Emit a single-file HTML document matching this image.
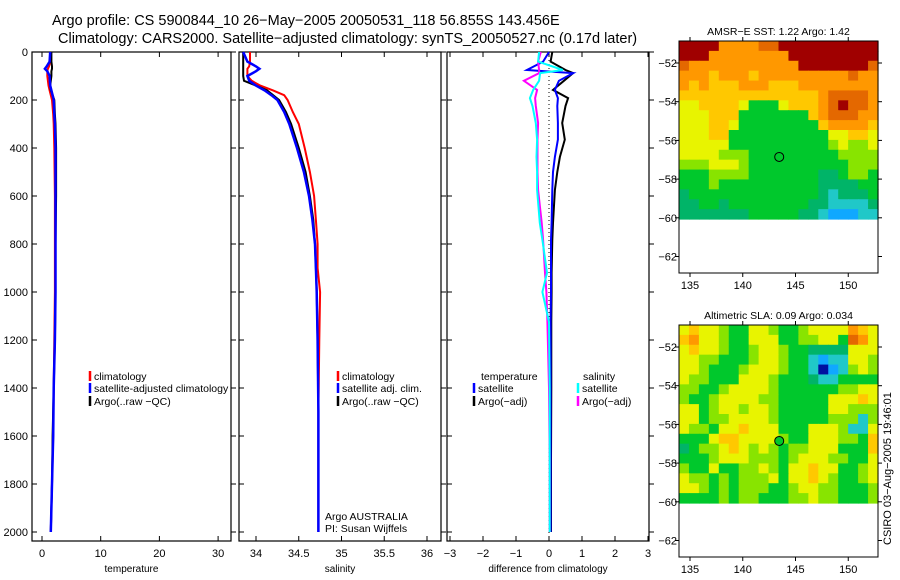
<!DOCTYPE html>
<html><head><meta charset="utf-8"><style>
body{margin:0;background:#fff;}
svg{display:block;font-family:"Liberation Sans",sans-serif;}
</style></head><body>
<svg id="fig" width="900" height="580" viewBox="0 0 900 580" xmlns="http://www.w3.org/2000/svg">
<text x="52" y="25" font-size="14.5">Argo profile: CS 5900844_10 26−May−2005 20050531_118 56.855S 143.456E</text>
<text x="58" y="43" font-size="14.5">Climatology: CARS2000. Satellite−adjusted climatology: synTS_20050527.nc (0.17d later)</text>
<g id="plots"></g>
<g id="maps"></g>
<text x="0" y="0" font-size="11" transform="translate(891,545) rotate(-90)">CSIRO 03−Aug−2005 19:46:01</text>
</svg>
<script>
// ---- data ----
const tDepth=[0,40,60,70,80,100,140,160,180,200,260,300,400,600,800,1000,1200,1400,1600,1800,2000];
const tClim=[1.5,1.4,1.2,1.0,0.9,0.9,1.1,1.3,1.5,1.7,1.9,2.0,2.1,2.2,2.2,2.2,2.1,2.0,1.9,1.7,1.5];
const tSat=[1.4,1.3,0.8,0.5,0.9,1.3,1.4,1.6,1.8,2.0,2.1,2.2,2.3,2.3,2.3,2.3,2.2,2.0,1.9,1.7,1.5];
const tArgo=[1.6,1.6,1.7,1.7,1.6,1.6,1.4,1.5,1.8,2.1,2.2,2.3,2.4,2.4,2.3,2.3,2.2,2.0,1.8,1.7,1.5];
const sDepth=[0,40,60,70,80,100,120,140,160,180,200,250,300,400,500,600,700,800,900,1000,1200,1500,2000];
const sClim=[33.93,33.93,33.92,33.9,33.9,33.9,33.95,34.05,34.2,34.33,34.37,34.43,34.5,34.57,34.63,34.68,34.7,34.72,34.72,34.75,34.74,34.73,34.73];
const sSat=[33.85,33.9,34.0,34.04,34.0,33.9,33.92,34.0,34.1,34.18,34.25,34.33,34.39,34.48,34.56,34.62,34.66,34.69,34.7,34.71,34.72,34.73,34.73];
const sArgo=[33.85,33.85,33.85,33.85,33.85,33.85,33.86,34.0,34.13,34.2,34.27,34.35,34.41,34.5,34.58,34.63,34.67,34.69,34.7,34.71,34.72,34.73,34.73];
const dDepth=[0,40,75,88,120,158,192,225,296,365,437,500,575,712,783,920,1000,1125,1400,1700,2000];
const dTempArgo=[0.1,0.05,0.5,0.73,0.45,0.12,0.58,0.5,0.4,0.48,0.33,0.25,0.18,0.12,0.1,0.08,0.08,0.07,0.07,0.06,0.06];
const dTempSat=[0.0,-0.18,-0.67,0.73,0.3,0.18,0.27,0.25,0.27,0.27,0.18,0.12,0.1,0.08,0.06,0.06,0.06,0.05,0.05,0.05,0.05];
const dSalSat=[-0.3,-0.33,0.42,-0.27,-0.3,-0.48,-0.58,-0.5,-0.4,-0.36,-0.38,-0.36,-0.36,-0.28,-0.2,-0.06,-0.2,0,0.02,0.02,0.02];
const dSalArgo=[-0.25,-0.33,-0.3,-0.3,-0.76,-0.36,-0.42,-0.4,-0.33,-0.35,-0.35,-0.35,-0.33,-0.22,-0.18,-0.12,-0.08,-0.05,0.0,0.02,0.02];
const depthTicks=[0,200,400,600,800,1000,1200,1400,1600,1800,2000];
const tTicks=[0,10,20,30];
const sTicks=[34,34.5,35,35.5,36];
const dTicks=[-3,-2,-1,0,1,2,3];
const lonTicks=[135,140,145,150];
const latTicks=[-52,-54,-56,-58,-60,-62];
const sstGrid=["99997777889999999999","99977777777999999999","87777777777799999998","77767776777777777877","76766677766677777777","66666666666666788887","55666653335666789887","55566633333336788877","55566533333333677776","55566333333333355665","55555333333333345445","55554443333333334444","44455543333333333444","33344443333333223443","33343333333333222233","23333333333333212223","22332333333332211112","22222223333322100011"];
const slaGrid=["56554335543345555765","67554335553344553875","56554334554332222555","55443334554331011554","55433345554331b01454","54433355543332113333","44334555543333334455","43345555443333355565","55345545543333355444","55344555543333344414","54435565553335554115","33356655554335554436","23445654543445553336","33345554443455544335","43353344543556553345","54434344453556543345","55434344433455443334","33334344333445443334"];
const argoLon=143.456, argoLat=-56.855;

const NS="http://www.w3.org/2000/svg";
function mk(tag,attrs,parent){const e=document.createElementNS(NS,tag);for(const k in attrs)e.setAttribute(k,attrs[k]);parent.appendChild(e);return e;}
const plots=document.getElementById('plots');
const yD=d=>52+d*0.24;
const yTop=52,yBot=541;
const panels=[
 {x0:32,x1:231,xs:v=>42+v*5.87,ticks:tTicks,title:'temperature',name:'temperature-panel'},
 {x0:239,x1:441,xs:v=>256+(v-34)*85.5,ticks:sTicks,title:'salinity',name:'salinity-panel'},
 {x0:447,x1:649,xs:v=>549+v*33,ticks:dTicks,title:'difference from climatology',name:'difference-panel'}
];
panels.forEach((p,i)=>{
 const g=mk('g',{},plots);
 
 
 const fr=mk('rect',{x:p.x0,y:yTop,width:p.x1-p.x0,height:yBot-yTop,fill:'none',stroke:'#000','stroke-width':1.2},g);
 
 
 p.ticks.forEach(t=>{
  const x=p.xs(t);
  mk('line',{x1:x,x2:x,y1:yTop,y2:yTop+5,stroke:'#000'},g);
  mk('line',{x1:x,x2:x,y1:yBot,y2:yBot-5,stroke:'#000'},g);
  const tl=mk('text',{x:x,y:yBot+16,'font-size':11,'text-anchor':'middle'},g);
  tl.textContent=String(t).replace('-','−');
  
  
 });
 depthTicks.forEach(d=>{
  const y=yD(d);
  mk('line',{x1:p.x0,x2:p.x0+5,y1:y,y2:y,stroke:'#000'},g);
  mk('line',{x1:p.x1,x2:p.x1+5,y1:y,y2:y,stroke:'#000'},g);
  if(i===0){const tl=mk('text',{x:28,y:y+4,'font-size':11,'text-anchor':'end'},g);tl.textContent=d;
   
   }
 });
 const at=mk('text',{x:(p.x0+p.x1)/2,y:572,'font-size':10,'text-anchor':'middle'},g);
 at.textContent=p.title;
 
 
});
function line(depths,vals,xs,color,name,w){
 const pts=depths.map((d,i)=>xs(vals[i]).toFixed(1)+','+yD(d).toFixed(1)).join(' ');
 const l=mk('polyline',{points:pts,fill:'none',stroke:color,'stroke-width':w||2},plots);
 
 
}
line(tDepth,tClim,panels[0].xs,'#f00','temp-climatology-line');
line(tDepth,tArgo,panels[0].xs,'#000','temp-argo-line');
line(tDepth,tSat,panels[0].xs,'#00f','temp-satellite-line',2.5);
line(sDepth,sClim,panels[1].xs,'#f00','sal-climatology-line');
line(sDepth,sArgo,panels[1].xs,'#000','sal-argo-line');
line(sDepth,sSat,panels[1].xs,'#00f','sal-satellite-line',2.5);
const zl=mk('line',{x1:549,x2:549,y1:yTop,y2:yBot,stroke:'#000','stroke-dasharray':'1,3'},plots);


line(dDepth,dTempArgo,panels[2].xs,'#000','diff-temp-argo-line');
line(dDepth,dTempSat,panels[2].xs,'#00f','diff-temp-satellite-line');
line(dDepth,dSalArgo,panels[2].xs,'#f0f','diff-sal-argo-line');
line(dDepth,dSalSat,panels[2].xs,'#0ff','diff-sal-satellite-line');
function legend(x,y,color,label){
 if(color){const b=mk('line',{x1:x,x2:x,y1:y-9,y2:y+1,stroke:color,'stroke-width':2.5},plots);
  
  }
 const t=mk('text',{x:x+4,y:y,'font-size':10.5},plots);t.textContent=label;
 
 
}
legend(90,380,'#f00','climatology');legend(90,392,'#00f','satellite-adjusted climatology');legend(90,405,'#000','Argo(..raw −QC)');
legend(338,380,'#f00','climatology');legend(338,392,'#00f','satellite adj. clim.');legend(338,405,'#000','Argo(..raw −QC)');
legend(477,380,null,'temperature');legend(474,392,'#00f','satellite');legend(474,405,'#000','Argo(−adj)');
legend(579,380,null,'salinity');legend(578,392,'#0ff','satellite');legend(578,405,'#f0f','Argo(−adj)');
const a1=mk('text',{x:325,y:520,'font-size':10.5},plots);a1.textContent='Argo AUSTRALIA';


const a2=mk('text',{x:325,y:532,'font-size':10.5},plots);a2.textContent='PI: Susan Wijffels';



// ---- maps ----
const pal={'0':'#10a8ff','1':'#20c8c8','2':'#00b468','3':'#00c82c','4':'#88e400','5':'#e8f400','6':'#ffc800','7':'#ff9800','8':'#e46800','9':'#a00000','b':'#0010a0'};
const maps=document.getElementById('maps');
const lonX=l=>690+(l-135)*10.55;
function drawMap(y0,grid,title,name,dotFill){
 const g=mk('g',{},maps);
 
 
 const x0=679,x1=878,fieldH=178,h=232;
 const cw=(x1-x0)/grid[0].length,ch=fieldH/grid.length;
 grid.forEach((row,r)=>{[...row].forEach((c,k)=>{
  mk('rect',{x:(x0+k*cw).toFixed(2),y:(y0+r*ch).toFixed(2),width:(cw+0.6).toFixed(2),height:(ch+0.6).toFixed(2),fill:pal[c]},g);
 });});
 mk('rect',{x:x0,y:y0,width:x1-x0,height:h,fill:'none',stroke:'#000'},g);
 const latY=l=>y0+22+(-52-l)*19.35;
 lonTicks.forEach(l=>{const x=lonX(l);mk('line',{x1:x,x2:x,y1:y0+h,y2:y0+h+4,stroke:'#000'},g);mk('line',{x1:x,x2:x,y1:y0,y2:y0-4,stroke:'#000'},g);
  const t=mk('text',{x:x,y:y0+h+16,'font-size':11,'text-anchor':'middle'},g);t.textContent=l;
  
  });
 latTicks.forEach(l=>{const y=latY(l);mk('line',{x1:x0-4,x2:x0,y1:y,y2:y,stroke:'#000'},g);mk('line',{x1:x1,x2:x1+4,y1:y,y2:y,stroke:'#000'},g);
  const t=mk('text',{x:x0-2,y:y+4,'font-size':11,'text-anchor':'end'},g);t.textContent=String(l).replace('-','−');
  
  });
 const c=mk('circle',{cx:lonX(argoLon),cy:latY(argoLat),r:4.5,fill:dotFill,stroke:'#000'},g);
 
 
 const t=mk('text',{x:(x0+x1)/2,y:y0-6,'font-size':10.5,'text-anchor':'middle'},g);t.textContent=title;
 
 
}
drawMap(41,sstGrid,'AMSR−E SST: 1.22 Argo: 1.42','sst-map','none');
drawMap(325,slaGrid,'Altimetric SLA: 0.09 Argo: 0.034','sla-map','#00c82c');
</script>
</body></html>
